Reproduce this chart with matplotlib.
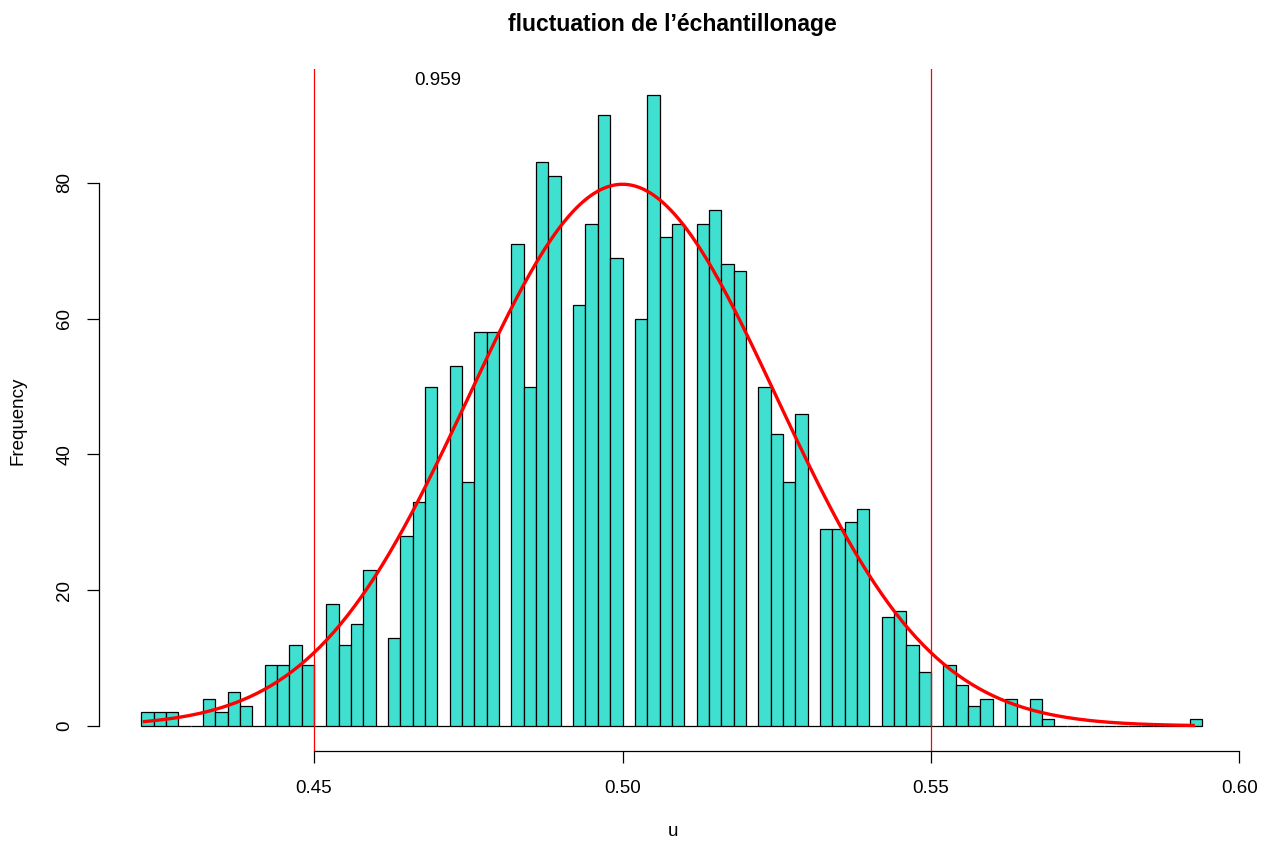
import numpy as np
import matplotlib
matplotlib.use("Agg")
import matplotlib.pyplot as plt

plt.rcParams['font.family'] = ['Liberation Sans', 'DejaVu Sans']

# histogram of sample proportions (bins of width 0.002 from 0.422 to 0.594)
bin_start = 0.422
bin_width = 0.002
counts = [2, 2, 2, 0, 0, 4, 2, 5, 3, 0,
          9, 9, 12, 9, 0, 18, 12, 15, 23, 0,
          13, 28, 33, 50, 0, 53, 36, 58, 58, 0,
          71, 50, 83, 81, 0, 62, 74, 90, 69, 0,
          60, 93, 72, 74, 0, 74, 76, 68, 67, 0,
          50, 43, 36, 46, 0, 29, 29, 30, 32, 0,
          16, 17, 12, 8, 0, 9, 6, 3, 4, 0,
          4, 0, 4, 1, 0, 0, 0, 0, 0, 0,
          0, 0, 0, 0, 0, 1]

# normal approximation: p = 0.5, n = 400, 2000 samples
p = 0.5
n = 400
n_samples = sum(counts)
curve_from = 0.4225
curve_to = 0.5925

limits = [0.45, 0.55]
note_text = "0.959"
note_x, note_y = 0.47, 95

xticks = [0.45, 0.50, 0.55, 0.60]
xticklabels = ["0.45", "0.50", "0.55", "0.60"]
yticks = [0, 20, 40, 60, 80]

edges = bin_start + bin_width * np.arange(len(counts) + 1)

fig = plt.figure(figsize=(12.69, 8.41), dpi=100)
ax = fig.add_axes([0.0779, 0.1067, 0.981 - 0.0779, 0.9176 - 0.1067])

ax.bar(edges[:-1], counts, width=bin_width, align='edge',
       color='#40E0D0', edgecolor='black', linewidth=0.9)

# density scaled by number of samples times the proportion step 1/n
sd = np.sqrt(p * (1 - p) / n)
xs = np.linspace(curve_from, curve_to, 300)
ys = np.exp(-0.5 * ((xs - p) / sd) ** 2) / (sd * np.sqrt(2 * np.pi)) * n_samples / n
ax.plot(xs, ys, color='red', lw=2.4)

for lim in limits:
    ax.axvline(lim, color='red', lw=0.9)

ax.text(note_x, note_y, note_text, ha='center', va='center', fontsize=13.5)

# R-like extents (4% padding)
xr = edges[-1] - edges[0]
ax.set_xlim(edges[0] - 0.04 * xr, edges[-1] + 0.04 * xr)
ymax = max(counts)
ax.set_ylim(-0.04 * ymax, ymax * 1.04)

for s in ['top', 'right']:
    ax.spines[s].set_visible(False)
ax.spines['bottom'].set_bounds(xticks[0], xticks[-1])
ax.spines['left'].set_bounds(yticks[0], yticks[-1])
ax.spines['bottom'].set_linewidth(0.9)
ax.spines['left'].set_linewidth(0.9)

ax.set_xticks(xticks)
ax.set_xticklabels(xticklabels)
ax.set_yticks(yticks)
ax.tick_params(axis='both', direction='out', length=8.5, width=0.9, labelsize=13.5)
ax.tick_params(axis='x', pad=12)
ax.tick_params(axis='y', pad=10)
for lab in ax.get_yticklabels():
    lab.set_rotation(90)
    lab.set_va('center')

fig.text(0.53, 1 - 25 / 841, "fluctuation de l’échantillonage",
         ha='center', va='center', fontsize=16.5, fontweight='bold')
fig.text(0.53, 1 - 832 / 841, "u", ha='center', va='center', fontsize=13.5)
fig.text(18 / 1269, 0.5, "Frequency", ha='center', va='center', rotation=90, fontsize=13.5)

fig.savefig("out.png", dpi=100)
